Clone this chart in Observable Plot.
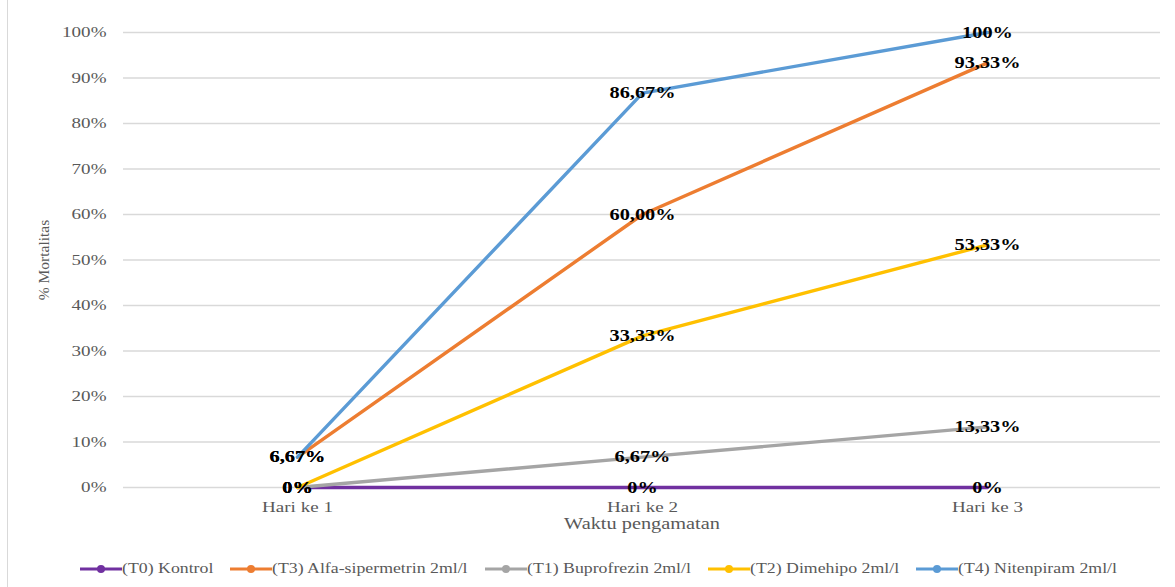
<!DOCTYPE html>
<html>
<head>
<meta charset="utf-8">
<script src="https://cdn.jsdelivr.net/npm/d3@7"></script>
<script src="https://cdn.jsdelivr.net/npm/@observablehq/plot@0.6"></script>
<style>
  html, body { margin: 0; padding: 0; background: #fff; }
  #wrap { position: relative; width: 1175px; height: 587px; overflow: hidden; font-family: "Liberation Serif", serif; }
  #border { position: absolute; left: 7px; top: 0; width: 1px; height: 587px; background: #d9d9d9; }
  #chart { position: absolute; left: 0; top: 0; }
  #legend { position: absolute; left: 80px; top: 560px; display: flex; align-items: center; height: 18px; }
  .item { display: flex; align-items: center; margin-right: 17px; }
  .item span { display: inline-block; white-space: nowrap; font-size: 14px; color: #595959; transform-origin: left center; transform: scaleX(1.27); }
</style>
</head>
<body>
<div id="wrap">
  <div id="border"></div>
  <div id="chart"></div>
  <div id="legend"></div>
</div>
<script>
const days = ["Hari ke 1", "Hari ke 2", "Hari ke 3"];
const seriesNames = ["(T0) Kontrol", "(T3) Alfa-sipermetrin 2ml/l", "(T1) Buprofrezin 2ml/l", "(T2) Dimehipo 2ml/l", "(T4) Nitenpiram 2ml/l"];
const seriesColors = ["#7030A0", "#ED7D31", "#A5A5A5", "#FFC000", "#5B9BD5"];
const t0Kontrol = [0, 0, 0];
const t3Alfa = [6.67, 60, 93.33];
const t1Buprofrezin = [0, 6.67, 13.33];
const t2Dimehipo = [0, 33.33, 53.33];
const t4Nitenpiram = [6.67, 86.67, 100];
const yTicks = [0, 10, 20, 30, 40, 50, 60, 70, 80, 90, 100];
const xTitle = "Waktu pengamatan";
const yTitle = "% Mortalitas";

const allValues = [t0Kontrol, t3Alfa, t1Buprofrezin, t2Dimehipo, t4Nitenpiram];
const fmt = v => v === 0 ? "0%" : v === 100 ? "100%" : v.toFixed(2).replace(".", ",") + "%";
const data = [];
seriesNames.forEach((s, i) => {
  days.forEach((d, j) => {
    data.push({series: s, day: d, value: allValues[i][j], label: fmt(allValues[i][j])});
  });
});

const STRETCH = 1.27;

const plot = Plot.plot({
  width: 1175,
  height: 545,
  marginTop: 32,
  marginBottom: 58,
  marginLeft: 123,
  marginRight: 15,
  style: {fontFamily: "Liberation Serif, serif", fontSize: "15px", color: "#595959", background: "transparent", overflow: "visible"},
  x: {type: "point", domain: days, padding: 0.5, label: null},
  y: {domain: [0, 100], label: null},
  color: {domain: seriesNames, range: seriesColors},
  marks: [
    Plot.gridY(yTicks, {stroke: "#d9d9d9", strokeOpacity: 1, strokeWidth: 1.5}),
    Plot.axisY(yTicks, {tickSize: 0, tickPadding: 17, tickFormat: d => d + "%", fontSize: 15, fill: "#595959", label: null}),
    Plot.axisX({tickSize: 0, tickPadding: 14, fontSize: 15, fill: "#595959", label: null}),
    Plot.line(data, {x: "day", y: "value", z: "series", stroke: "series", strokeWidth: 3.4}),
    Plot.text(data, {x: "day", y: "value", text: "label", fontWeight: "bold", fontSize: 16, fill: "#000"}),
    Plot.text([xTitle], {frameAnchor: "bottom", dy: 41, fontSize: 16, fill: "#595959"}),
    Plot.text([yTitle], {frameAnchor: "left", textAnchor: "middle", dx: -79, rotate: -90, fontSize: 15.5, fill: "#595959"})
  ]
});
document.getElementById("chart").appendChild(plot);

// Horizontal stretch of text to match the reference proportions
plot.querySelectorAll("text").forEach(t => {
  if (t.textContent === yTitle) return;
  const len = t.getComputedTextLength();
  if (len > 0) {
    t.setAttribute("textLength", len * STRETCH);
    t.setAttribute("lengthAdjust", "spacingAndGlyphs");
  }
});

// Legend
const legend = d3.select("#legend");
seriesNames.forEach((s, i) => {
  const item = legend.append("div").attr("class", "item");
  const sw = item.append("svg").attr("width", 42).attr("height", 12);
  sw.append("line").attr("x1", 0).attr("x2", 42).attr("y1", 6).attr("y2", 6)
    .attr("stroke", seriesColors[i]).attr("stroke-width", 3);
  sw.append("circle").attr("cx", 21).attr("cy", 6).attr("r", 4).attr("fill", seriesColors[i]);
  const span = item.append("span").text(s).node();
  const w = span.getBoundingClientRect().width;
  const base = span.offsetWidth;
  item.style("margin-right", (17 + (w - base)) + "px");
});
</script>
</body>
</html>
